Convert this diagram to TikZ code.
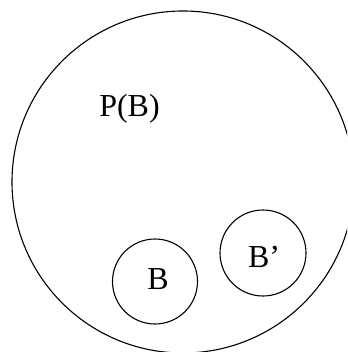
\documentclass[tikz,border=0pt]{standalone}
\usepackage{fontspec}
\setmainfont{Liberation Serif}
\begin{document}
\begin{tikzpicture}[x=1pt,y=-1pt,
  ring/.style={draw=black,line width=1.1pt},
  lbl/.style={anchor=base,inner sep=0pt,font=\fontsize{32}{36}\selectfont}]
\useasboundingbox (0,0) rectangle (347,352);
\begin{scope}
\clip (0,0) rectangle (347,352);
\node[ring,circle,minimum size=342pt,inner sep=0pt] (PB) at (183,182) {};
\end{scope}
\node[ring,circle,minimum size=85pt,inner sep=0pt] (B) at (155,281.5) {};
\node[ring,circle,minimum size=86pt,inner sep=0pt] (Bp) at (263,253) {};
\node[lbl] (tPB) at (129.5,117) {P(B)};
\node[lbl] (tB) at (158,289) {B};
\node[lbl] (tBp) at (264,267) {B’};
\end{tikzpicture}
\end{document}
